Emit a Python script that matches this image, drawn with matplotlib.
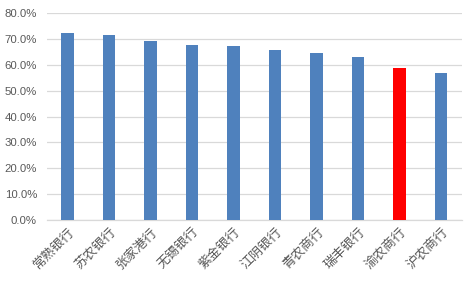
import matplotlib
matplotlib.use("Agg")
import matplotlib.pyplot as plt
from matplotlib.ticker import FuncFormatter

plt.rcParams['font.family'] = ['Noto Sans CJK SC', 'DejaVu Sans']

banks = ["常熟银行", "苏农银行", "张家港行", "无锡银行", "紫金银行",
         "江阴银行", "青农商行", "瑞丰银行", "渝农商行", "沪农商行"]
values = [72.4, 71.6, 69.3, 67.7, 67.3, 65.8, 64.6, 63.1, 58.8, 56.9]
highlight = "渝农商行"

colors = ["#FF0000" if b == highlight else "#4F81BD" for b in banks]

fig = plt.figure(figsize=(4.69, 2.84), dpi=100)
ax = fig.add_axes([46.7/469, 1 - 220/284, (462 - 46.7)/469, (220 - 13.3)/284])

x = range(len(banks))
ax.bar(x, values, width=0.3, color=colors, zorder=3)
ax.set_xlim(-0.5, len(banks) - 0.5)
ax.set_ylim(0, 80)
ax.set_yticks(range(0, 81, 10))
ax.yaxis.set_major_formatter(FuncFormatter(lambda v, p: f"{v:.1f}%"))
ax.grid(axis='y', color='#D9D9D9', linewidth=0.9, zorder=0)
for s in ['top', 'right', 'left']:
    ax.spines[s].set_visible(False)
ax.spines['bottom'].set_color('#D9D9D9')
ax.spines['bottom'].set_linewidth(0.9)
ax.tick_params(axis='both', length=0, colors='#595959')
ax.tick_params(axis='y', pad=7)
for lab in ax.get_yticklabels():
    lab.set_fontfamily(['Liberation Sans', 'DejaVu Sans'])
    lab.set_fontsize(8.2)
ax.set_xticks(list(x))
ax.set_xticklabels(banks, rotation=45, ha='right', rotation_mode='anchor',
                   fontsize=9.4, color='#595959')
ax.tick_params(axis='x', pad=4)

fig.savefig("out.png", dpi=100, facecolor='white')
